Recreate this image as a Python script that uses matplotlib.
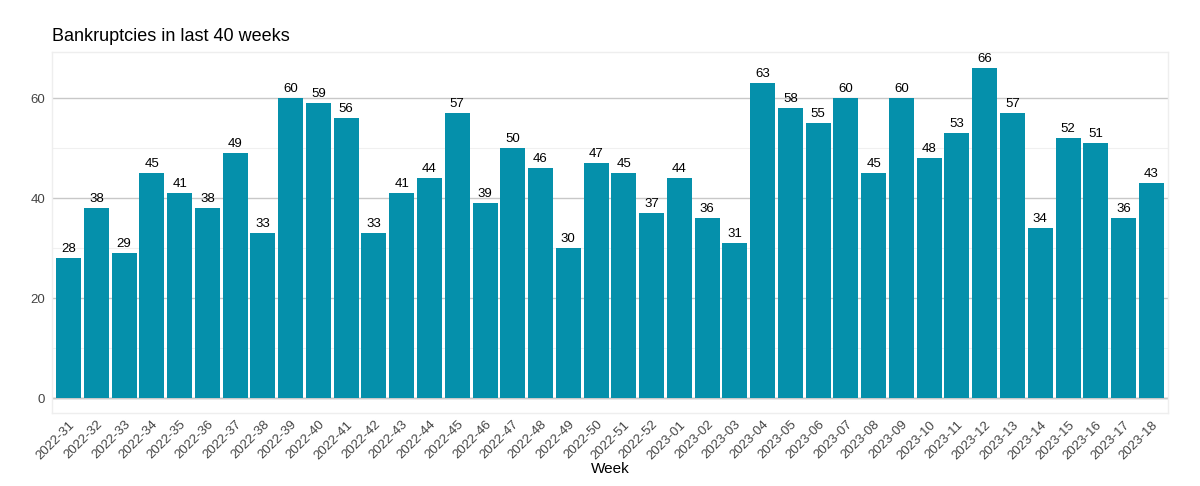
import matplotlib
matplotlib.use("Agg")
import matplotlib.pyplot as plt
from matplotlib.ticker import MultipleLocator

plt.rcParams['font.family'] = ['Liberation Sans', 'DejaVu Sans']

weeks = ["2022-%02d" % w for w in range(31, 53)] + ["2023-%02d" % w for w in range(1, 19)]
counts = [28, 38, 29, 45, 41, 38, 49, 33, 60, 59, 56, 33, 41, 44, 57, 39, 50, 46, 30, 47,
          45, 37, 44, 36, 31, 63, 58, 55, 60, 45, 60, 48, 53, 66, 57, 34, 52, 51, 36, 43]

fig = plt.figure(figsize=(12, 4.86), dpi=100)
ax = fig.add_axes([0.0433, 0.150, 0.930, 0.743])

x = range(len(weeks))
ax.bar(x, counts, width=0.9, color="#0590AB", zorder=2)
for i, v in zip(x, counts):
    ax.text(i, v + 0.6, str(v), ha="center", va="bottom", fontsize=9.5, color="black")

ax.set_xlim(-0.6, len(weeks) - 0.4)
ax.set_ylim(-3, 69.2)
ax.yaxis.set_major_locator(MultipleLocator(20))
ax.yaxis.set_minor_locator(MultipleLocator(10))
ax.grid(axis="y", which="major", color="#c8c8c8", linewidth=1.0, zorder=0)
ax.grid(axis="y", which="minor", color="#f0f0f0", linewidth=0.8, zorder=0)
ax.axhline(0, color="#aaaaaa", linewidth=1.0, zorder=1)

ax.set_xticks(list(x))
ax.set_xticklabels(weeks, rotation=45, ha="right", rotation_mode="anchor", fontsize=9.5, color="#444444")
ax.tick_params(axis="y", labelsize=9.5, labelcolor="#444444", length=0, pad=5)
ax.tick_params(axis="y", which="minor", length=0)
ax.tick_params(axis="x", length=0, pad=4)
for s in ax.spines.values():
    s.set_color("#eeeeee")
    s.set_linewidth(1.0)

ax.set_xlabel("Week", fontsize=11, labelpad=0)
fig.text(0.0433, 0.916, "Bankruptcies in last 40 weeks", fontsize=13, ha="left", va="baseline")

fig.savefig("out.png", dpi=100)
